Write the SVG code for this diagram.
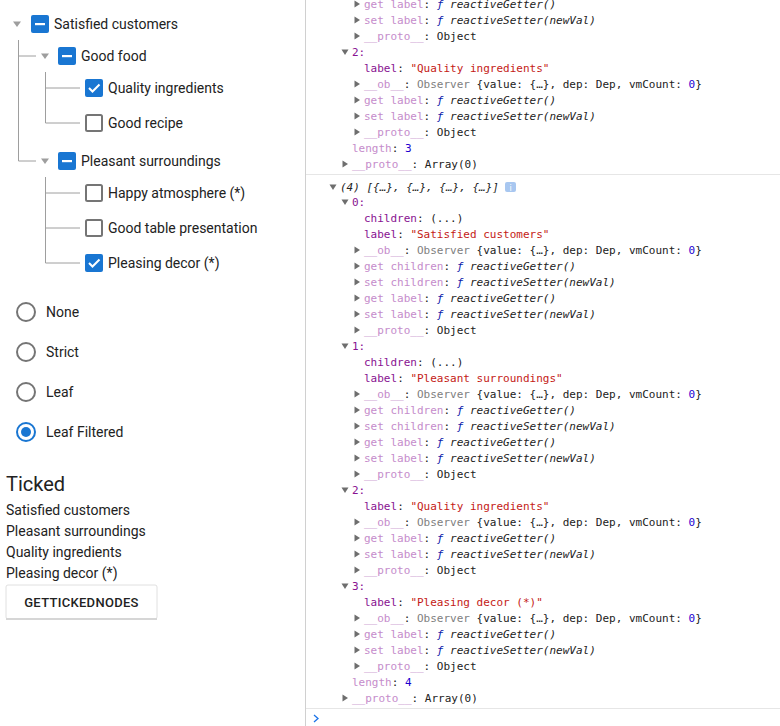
<svg xmlns="http://www.w3.org/2000/svg" width="780" height="726" viewBox="0 0 780 726">
<style>
.ui{font-family:Roboto,"Liberation Sans",sans-serif;font-size:14px;fill:#222}
.c{font-family:"DejaVu Sans Mono","Liberation Mono",monospace;font-size:11px;fill:#222}
.k{fill:#881391}.d{fill:#c58ccb}.s{fill:#c41a16}.n{fill:#1c00cf}.f{fill:#0d22aa;font-style:italic}.i{font-style:italic}.g{fill:#808080}
.ln{stroke:#9e9e9e;stroke-width:1;fill:none}
.cb{fill:#fff;stroke:#757575;stroke-width:2}
.cbon{fill:#1976d2}
.tri{fill:#9e9e9e}
.ct{fill:#6e6e6e}
</style>
<defs>
<polygon id="td" points="-4,-2.5 4,-2.5 0,3" class="tri"/>
<polygon id="cd" points="-3.5,-2.5 3.5,-2.5 0,3" class="ct"/>
<polygon id="cr" points="-2.5,-3.5 3,0 -2.5,3.5" class="ct"/>
<g id="ind"><rect x="-9" y="-9" width="18" height="18" rx="2" class="cbon"/><rect x="-5" y="-1" width="10" height="2.2" fill="#fff"/></g>
<g id="chk"><rect x="-9" y="-9" width="18" height="18" rx="2" class="cbon"/><path d="M-5,0 L-1.5,3.5 L5.5,-3.5" stroke="#fff" stroke-width="2" fill="none"/></g>
<rect id="unc" x="-8" y="-8" width="16" height="16" rx="1.5" class="cb"/>
</defs>
<rect width="780" height="726" fill="#fff"/>
<line x1="305.5" y1="0" x2="305.5" y2="726" stroke="#d0d0d0"/>
<g id="connectors">
<path class="ln" d="M18.5,40 V161 H36 M18.5,56 H36 M45.5,72 V123 H80 M45.5,88 H80 M45.5,177 V263 H80 M45.5,193 H80 M45.5,228 H80"/>
</g>
<g id="n-satisfied"><use href="#td" x="17" y="24"/><use href="#ind" x="40" y="24"/><text class="ui" x="54" y="29">Satisfied customers</text></g>
<g id="n-goodfood"><use href="#td" x="45" y="56"/><use href="#ind" x="67" y="56"/><text class="ui" x="81" y="61">Good food</text></g>
<g id="n-quality"><use href="#chk" x="94" y="88"/><text class="ui" x="108" y="93">Quality ingredients</text></g>
<g id="n-recipe"><use href="#unc" x="94" y="123"/><text class="ui" x="108" y="128">Good recipe</text></g>
<g id="n-pleasant"><use href="#td" x="45" y="161"/><use href="#ind" x="67" y="161"/><text class="ui" x="81" y="166">Pleasant surroundings</text></g>
<g id="n-happy"><use href="#unc" x="94" y="193"/><text class="ui" x="108" y="198">Happy atmosphere (*)</text></g>
<g id="n-table"><use href="#unc" x="94" y="228"/><text class="ui" x="108" y="233">Good table presentation</text></g>
<g id="n-decor"><use href="#chk" x="94" y="263"/><text class="ui" x="108" y="268">Pleasing decor (*)</text></g>
<g id="radios">
<circle cx="26" cy="312" r="9" fill="none" stroke="#757575" stroke-width="2"/><text class="ui" x="46" y="317">None</text>
<circle cx="26" cy="352" r="9" fill="none" stroke="#757575" stroke-width="2"/><text class="ui" x="46" y="357">Strict</text>
<circle cx="26" cy="392" r="9" fill="none" stroke="#757575" stroke-width="2"/><text class="ui" x="46" y="397">Leaf</text>
<circle cx="26" cy="432" r="9" fill="none" stroke="#1976d2" stroke-width="2"/><circle cx="26" cy="432" r="5" fill="#1976d2"/><text class="ui" x="46" y="437">Leaf Filtered</text>
</g>
<g id="ticked">
<text class="ui" x="6" y="491" style="font-size:20px">Ticked</text>
<text class="ui" x="6" y="515">Satisfied customers</text>
<text class="ui" x="6" y="536">Pleasant surroundings</text>
<text class="ui" x="6" y="557">Quality ingredients</text>
<text class="ui" x="6" y="578">Pleasing decor (*)</text>
<rect x="6" y="585" width="151" height="34" rx="2" fill="#fff" stroke="#e0e0e0"/>
<rect x="6" y="618" width="151" height="2" fill="#d6d6d6"/>
<text class="ui" x="81.5" y="607" text-anchor="middle" style="font-size:13px;font-weight:500;letter-spacing:0.3px">GETTICKEDNODES</text>
</g>
<g id="console">
<line x1="306" y1="174.5" x2="780" y2="174.5" stroke="#e6e6e6"/>
<line x1="306" y1="708.5" x2="780" y2="708.5" stroke="#e6e6e6"/>
<use href="#cr" x="357" y="4"/><text class="c" x="364" y="8"><tspan class="d">get label</tspan>: <tspan class="f">ƒ</tspan> <tspan class="i">reactiveGetter()</tspan></text>
<use href="#cr" x="357" y="20"/><text class="c" x="364" y="24"><tspan class="d">set label</tspan>: <tspan class="f">ƒ</tspan> <tspan class="i">reactiveSetter(newVal)</tspan></text>
<use href="#cr" x="357" y="36"/><text class="c" x="364" y="40"><tspan class="d">__proto__</tspan>: Object</text>
<use href="#cd" x="345" y="52"/><text class="c k" x="352" y="56">2:</text>
<text class="c" x="364" y="72"><tspan class="k">label</tspan>: <tspan class="s">"Quality ingredients"</tspan></text>
<use href="#cr" x="357" y="84"/><text class="c" x="364" y="88"><tspan class="d">__ob__</tspan>: <tspan class="g">Observer</tspan> {value: {…}, dep: Dep, vmCount: <tspan class="n">0</tspan>}</text>
<use href="#cr" x="357" y="100"/><text class="c" x="364" y="104"><tspan class="d">get label</tspan>: <tspan class="f">ƒ</tspan> <tspan class="i">reactiveGetter()</tspan></text>
<use href="#cr" x="357" y="116"/><text class="c" x="364" y="120"><tspan class="d">set label</tspan>: <tspan class="f">ƒ</tspan> <tspan class="i">reactiveSetter(newVal)</tspan></text>
<use href="#cr" x="357" y="132"/><text class="c" x="364" y="136"><tspan class="d">__proto__</tspan>: Object</text>
<text class="c" x="352" y="152"><tspan class="d">length</tspan>: <tspan class="n">3</tspan></text>
<use href="#cr" x="345" y="164"/><text class="c" x="352" y="168"><tspan class="d">__proto__</tspan>: Array(0)</text>

<use href="#cd" x="333" y="187"/><text class="c i" x="340" y="191">(4) [{…}, {…}, {…}, {…}]</text>
<rect x="505" y="182" width="11" height="10" rx="2" fill="#a8c7f0"/><text x="510.5" y="190.5" text-anchor="middle" style="font-family:'DejaVu Sans',sans-serif;font-size:8px;fill:#fff">i</text>

<use href="#cd" x="345" y="202"/><text class="c k" x="352" y="206">0:</text>
<text class="c" x="364" y="222"><tspan class="k">children</tspan>: (...)</text>
<text class="c" x="364" y="238"><tspan class="k">label</tspan>: <tspan class="s">"Satisfied customers"</tspan></text>
<use href="#cr" x="357" y="250"/><text class="c" x="364" y="254"><tspan class="d">__ob__</tspan>: <tspan class="g">Observer</tspan> {value: {…}, dep: Dep, vmCount: <tspan class="n">0</tspan>}</text>
<use href="#cr" x="357" y="266"/><text class="c" x="364" y="270"><tspan class="d">get children</tspan>: <tspan class="f">ƒ</tspan> <tspan class="i">reactiveGetter()</tspan></text>
<use href="#cr" x="357" y="282"/><text class="c" x="364" y="286"><tspan class="d">set children</tspan>: <tspan class="f">ƒ</tspan> <tspan class="i">reactiveSetter(newVal)</tspan></text>
<use href="#cr" x="357" y="298"/><text class="c" x="364" y="302"><tspan class="d">get label</tspan>: <tspan class="f">ƒ</tspan> <tspan class="i">reactiveGetter()</tspan></text>
<use href="#cr" x="357" y="314"/><text class="c" x="364" y="318"><tspan class="d">set label</tspan>: <tspan class="f">ƒ</tspan> <tspan class="i">reactiveSetter(newVal)</tspan></text>
<use href="#cr" x="357" y="330"/><text class="c" x="364" y="334"><tspan class="d">__proto__</tspan>: Object</text>

<use href="#cd" x="345" y="346"/><text class="c k" x="352" y="350">1:</text>
<text class="c" x="364" y="366"><tspan class="k">children</tspan>: (...)</text>
<text class="c" x="364" y="382"><tspan class="k">label</tspan>: <tspan class="s">"Pleasant surroundings"</tspan></text>
<use href="#cr" x="357" y="394"/><text class="c" x="364" y="398"><tspan class="d">__ob__</tspan>: <tspan class="g">Observer</tspan> {value: {…}, dep: Dep, vmCount: <tspan class="n">0</tspan>}</text>
<use href="#cr" x="357" y="410"/><text class="c" x="364" y="414"><tspan class="d">get children</tspan>: <tspan class="f">ƒ</tspan> <tspan class="i">reactiveGetter()</tspan></text>
<use href="#cr" x="357" y="426"/><text class="c" x="364" y="430"><tspan class="d">set children</tspan>: <tspan class="f">ƒ</tspan> <tspan class="i">reactiveSetter(newVal)</tspan></text>
<use href="#cr" x="357" y="442"/><text class="c" x="364" y="446"><tspan class="d">get label</tspan>: <tspan class="f">ƒ</tspan> <tspan class="i">reactiveGetter()</tspan></text>
<use href="#cr" x="357" y="458"/><text class="c" x="364" y="462"><tspan class="d">set label</tspan>: <tspan class="f">ƒ</tspan> <tspan class="i">reactiveSetter(newVal)</tspan></text>
<use href="#cr" x="357" y="474"/><text class="c" x="364" y="478"><tspan class="d">__proto__</tspan>: Object</text>

<use href="#cd" x="345" y="490"/><text class="c k" x="352" y="494">2:</text>
<text class="c" x="364" y="510"><tspan class="k">label</tspan>: <tspan class="s">"Quality ingredients"</tspan></text>
<use href="#cr" x="357" y="522"/><text class="c" x="364" y="526"><tspan class="d">__ob__</tspan>: <tspan class="g">Observer</tspan> {value: {…}, dep: Dep, vmCount: <tspan class="n">0</tspan>}</text>
<use href="#cr" x="357" y="538"/><text class="c" x="364" y="542"><tspan class="d">get label</tspan>: <tspan class="f">ƒ</tspan> <tspan class="i">reactiveGetter()</tspan></text>
<use href="#cr" x="357" y="554"/><text class="c" x="364" y="558"><tspan class="d">set label</tspan>: <tspan class="f">ƒ</tspan> <tspan class="i">reactiveSetter(newVal)</tspan></text>
<use href="#cr" x="357" y="570"/><text class="c" x="364" y="574"><tspan class="d">__proto__</tspan>: Object</text>

<use href="#cd" x="345" y="586"/><text class="c k" x="352" y="590">3:</text>
<text class="c" x="364" y="606"><tspan class="k">label</tspan>: <tspan class="s">"Pleasing decor (*)"</tspan></text>
<use href="#cr" x="357" y="618"/><text class="c" x="364" y="622"><tspan class="d">__ob__</tspan>: <tspan class="g">Observer</tspan> {value: {…}, dep: Dep, vmCount: <tspan class="n">0</tspan>}</text>
<use href="#cr" x="357" y="634"/><text class="c" x="364" y="638"><tspan class="d">get label</tspan>: <tspan class="f">ƒ</tspan> <tspan class="i">reactiveGetter()</tspan></text>
<use href="#cr" x="357" y="650"/><text class="c" x="364" y="654"><tspan class="d">set label</tspan>: <tspan class="f">ƒ</tspan> <tspan class="i">reactiveSetter(newVal)</tspan></text>
<use href="#cr" x="357" y="666"/><text class="c" x="364" y="670"><tspan class="d">__proto__</tspan>: Object</text>
<text class="c" x="352" y="686"><tspan class="d">length</tspan>: <tspan class="n">4</tspan></text>
<use href="#cr" x="345" y="698"/><text class="c" x="352" y="702"><tspan class="d">__proto__</tspan>: Array(0)</text>
<path d="M314,715 L318,718.5 L314,722" stroke="#1a73e8" stroke-width="1.3" fill="none"/>
</g>
</svg>
